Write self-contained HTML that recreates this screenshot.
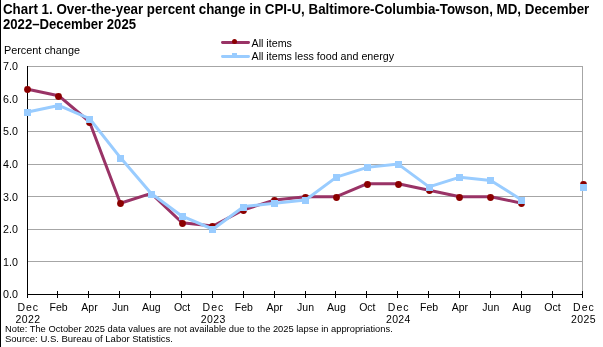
<!DOCTYPE html>
<html><head><meta charset="utf-8"><style>
html,body{margin:0;padding:0;background:#fff;width:603px;height:347px;overflow:hidden;position:relative;font-family:"Liberation Sans",sans-serif;}
</style></head><body>
<svg width="603" height="347" viewBox="0 0 603 347" style="position:absolute;left:0;top:0">
<rect x="0" y="0" width="1" height="347" fill="#000"/>
<line x1="27" y1="66.5" x2="582.5" y2="66.5" stroke="#A6A6A6" stroke-width="1"/>
<line x1="27" y1="99.5" x2="582.5" y2="99.5" stroke="#A6A6A6" stroke-width="1"/>
<line x1="27" y1="131.5" x2="582.5" y2="131.5" stroke="#A6A6A6" stroke-width="1"/>
<line x1="27" y1="164.5" x2="582.5" y2="164.5" stroke="#A6A6A6" stroke-width="1"/>
<line x1="27" y1="196.5" x2="582.5" y2="196.5" stroke="#A6A6A6" stroke-width="1"/>
<line x1="27" y1="229.5" x2="582.5" y2="229.5" stroke="#A6A6A6" stroke-width="1"/>
<line x1="27" y1="261.5" x2="582.5" y2="261.5" stroke="#A6A6A6" stroke-width="1"/>
<line x1="582.5" y1="66" x2="582.5" y2="294" stroke="#A6A6A6" stroke-width="1"/>
<line x1="27.5" y1="66" x2="27.5" y2="297.5" stroke="#000" stroke-width="1"/>
<line x1="27" y1="294.5" x2="583" y2="294.5" stroke="#000" stroke-width="1"/>
<line x1="27.5" y1="291" x2="27.5" y2="298" stroke="#000" stroke-width="1"/>
<line x1="57.5" y1="291" x2="57.5" y2="298" stroke="#000" stroke-width="1"/>
<line x1="88.5" y1="291" x2="88.5" y2="298" stroke="#000" stroke-width="1"/>
<line x1="119.5" y1="291" x2="119.5" y2="298" stroke="#000" stroke-width="1"/>
<line x1="150.5" y1="291" x2="150.5" y2="298" stroke="#000" stroke-width="1"/>
<line x1="181.5" y1="291" x2="181.5" y2="298" stroke="#000" stroke-width="1"/>
<line x1="212.5" y1="291" x2="212.5" y2="298" stroke="#000" stroke-width="1"/>
<line x1="243.5" y1="291" x2="243.5" y2="298" stroke="#000" stroke-width="1"/>
<line x1="274.5" y1="291" x2="274.5" y2="298" stroke="#000" stroke-width="1"/>
<line x1="305.5" y1="291" x2="305.5" y2="298" stroke="#000" stroke-width="1"/>
<line x1="335.5" y1="291" x2="335.5" y2="298" stroke="#000" stroke-width="1"/>
<line x1="366.5" y1="291" x2="366.5" y2="298" stroke="#000" stroke-width="1"/>
<line x1="397.5" y1="291" x2="397.5" y2="298" stroke="#000" stroke-width="1"/>
<line x1="428.5" y1="291" x2="428.5" y2="298" stroke="#000" stroke-width="1"/>
<line x1="459.5" y1="291" x2="459.5" y2="298" stroke="#000" stroke-width="1"/>
<line x1="490.5" y1="291" x2="490.5" y2="298" stroke="#000" stroke-width="1"/>
<line x1="521.5" y1="291" x2="521.5" y2="298" stroke="#000" stroke-width="1"/>
<line x1="552.5" y1="291" x2="552.5" y2="298" stroke="#000" stroke-width="1"/>
<line x1="582.5" y1="291" x2="582.5" y2="298" stroke="#000" stroke-width="1"/>
<polyline transform="translate(0 -0.6)" points="27.74,89.80 58.61,96.31 89.48,122.37 120.35,203.80 151.22,194.03 182.09,223.34 212.96,226.60 243.83,210.31 274.70,200.54 305.57,197.28 336.44,197.28 367.31,184.26 398.18,184.26 429.05,190.77 459.92,197.28 490.79,197.28 521.66,203.80" fill="none" stroke="#993366" stroke-width="3" stroke-linejoin="round" stroke-linecap="round"/>
<circle cx="27.5" cy="89.5" r="3.4" fill="#8B0000"/>
<circle cx="58.5" cy="96.5" r="3.4" fill="#8B0000"/>
<circle cx="89.5" cy="122.5" r="3.4" fill="#8B0000"/>
<circle cx="120.5" cy="203.5" r="3.4" fill="#8B0000"/>
<circle cx="151.5" cy="194.5" r="3.4" fill="#8B0000"/>
<circle cx="182.5" cy="223.5" r="3.4" fill="#8B0000"/>
<circle cx="212.5" cy="226.5" r="3.4" fill="#8B0000"/>
<circle cx="243.5" cy="210.5" r="3.4" fill="#8B0000"/>
<circle cx="274.5" cy="200.5" r="3.4" fill="#8B0000"/>
<circle cx="305.5" cy="197.5" r="3.4" fill="#8B0000"/>
<circle cx="336.5" cy="197.5" r="3.4" fill="#8B0000"/>
<circle cx="367.5" cy="184.5" r="3.4" fill="#8B0000"/>
<circle cx="398.5" cy="184.5" r="3.4" fill="#8B0000"/>
<circle cx="429.5" cy="190.5" r="3.4" fill="#8B0000"/>
<circle cx="459.5" cy="197.5" r="3.4" fill="#8B0000"/>
<circle cx="490.5" cy="197.5" r="3.4" fill="#8B0000"/>
<circle cx="521.5" cy="203.5" r="3.4" fill="#8B0000"/>
<circle cx="583.5" cy="184.5" r="3.4" fill="#8B0000"/>
<polyline transform="translate(0 -0.6)" points="27.74,112.60 58.61,106.09 89.48,119.11 120.35,158.20 151.22,194.03 182.09,216.83 212.96,229.85 243.83,207.06 274.70,203.80 305.57,200.54 336.44,177.74 367.31,167.97 398.18,164.71 429.05,187.51 459.92,177.74 490.79,181.00 521.66,200.54" fill="none" stroke="#99CCFF" stroke-width="3" stroke-linejoin="round" stroke-linecap="round"/>
<rect x="24" y="109" width="7" height="7" fill="#99CCFF"/>
<rect x="55" y="103" width="7" height="7" fill="#99CCFF"/>
<rect x="86" y="116" width="7" height="7" fill="#99CCFF"/>
<rect x="117" y="155" width="7" height="7" fill="#99CCFF"/>
<rect x="148" y="191" width="7" height="7" fill="#99CCFF"/>
<rect x="179" y="213" width="7" height="7" fill="#99CCFF"/>
<rect x="209" y="226" width="7" height="7" fill="#99CCFF"/>
<rect x="240" y="204" width="7" height="7" fill="#99CCFF"/>
<rect x="271" y="200" width="7" height="7" fill="#99CCFF"/>
<rect x="302" y="197" width="7" height="7" fill="#99CCFF"/>
<rect x="333" y="174" width="7" height="7" fill="#99CCFF"/>
<rect x="364" y="164" width="7" height="7" fill="#99CCFF"/>
<rect x="395" y="161" width="7" height="7" fill="#99CCFF"/>
<rect x="426" y="184" width="7" height="7" fill="#99CCFF"/>
<rect x="456" y="174" width="7" height="7" fill="#99CCFF"/>
<rect x="487" y="177" width="7" height="7" fill="#99CCFF"/>
<rect x="518" y="197" width="7" height="7" fill="#99CCFF"/>
<rect x="580" y="184" width="7" height="7" fill="#99CCFF"/>
<line x1="222.4" y1="42.5" x2="248.6" y2="42.5" stroke="#993366" stroke-width="2.8" stroke-linecap="round"/>
<circle cx="234.5" cy="41.5" r="2.5" fill="#8B0000"/>
<line x1="222.4" y1="56.5" x2="248.6" y2="56.5" stroke="#99CCFF" stroke-width="2.8" stroke-linecap="round"/>
<rect x="232" y="53" width="5" height="5" fill="#99CCFF"/>
</svg>
<svg width="603" height="347" viewBox="0 0 603 347" style="position:absolute;left:0;top:0;will-change:transform">
<text x="251.5" y="46.9" font-family="Liberation Sans, sans-serif" font-size="10.7" fill="#000">All items</text>
<text x="251.5" y="60.2" font-family="Liberation Sans, sans-serif" font-size="10.7" fill="#000">All items less food and energy</text>
<text x="4" y="54.3" font-family="Liberation Sans, sans-serif" font-size="10.85" fill="#000">Percent change</text>
<text x="3" y="70.3" font-family="Liberation Sans, sans-serif" font-size="10.7" fill="#000">7.0</text>
<text x="3" y="102.87" font-family="Liberation Sans, sans-serif" font-size="10.7" fill="#000">6.0</text>
<text x="3" y="135.44" font-family="Liberation Sans, sans-serif" font-size="10.7" fill="#000">5.0</text>
<text x="3" y="168.01" font-family="Liberation Sans, sans-serif" font-size="10.7" fill="#000">4.0</text>
<text x="3" y="200.58" font-family="Liberation Sans, sans-serif" font-size="10.7" fill="#000">3.0</text>
<text x="3" y="233.16" font-family="Liberation Sans, sans-serif" font-size="10.7" fill="#000">2.0</text>
<text x="3" y="265.73" font-family="Liberation Sans, sans-serif" font-size="10.7" fill="#000">1.0</text>
<text x="3" y="298.3" font-family="Liberation Sans, sans-serif" font-size="10.7" fill="#000">0.0</text>
<text x="28.24" y="310.9" text-anchor="middle" letter-spacing="1.0" font-family="Liberation Sans, sans-serif" font-size="10.5" fill="#000">Dec</text>
<text x="27.94" y="322.8" text-anchor="middle" letter-spacing="0.4" font-family="Liberation Sans, sans-serif" font-size="10.5" fill="#000">2022</text>
<text x="58.61" y="310.9" text-anchor="middle" letter-spacing="0" font-family="Liberation Sans, sans-serif" font-size="10.5" fill="#000">Feb</text>
<text x="89.48" y="310.9" text-anchor="middle" letter-spacing="0" font-family="Liberation Sans, sans-serif" font-size="10.5" fill="#000">Apr</text>
<text x="120.35" y="310.9" text-anchor="middle" letter-spacing="0" font-family="Liberation Sans, sans-serif" font-size="10.5" fill="#000">Jun</text>
<text x="151.22" y="310.9" text-anchor="middle" letter-spacing="0" font-family="Liberation Sans, sans-serif" font-size="10.5" fill="#000">Aug</text>
<text x="182.09" y="310.9" text-anchor="middle" letter-spacing="0" font-family="Liberation Sans, sans-serif" font-size="10.5" fill="#000">Oct</text>
<text x="213.46" y="310.9" text-anchor="middle" letter-spacing="1.0" font-family="Liberation Sans, sans-serif" font-size="10.5" fill="#000">Dec</text>
<text x="213.16" y="322.8" text-anchor="middle" letter-spacing="0.4" font-family="Liberation Sans, sans-serif" font-size="10.5" fill="#000">2023</text>
<text x="243.83" y="310.9" text-anchor="middle" letter-spacing="0" font-family="Liberation Sans, sans-serif" font-size="10.5" fill="#000">Feb</text>
<text x="274.70" y="310.9" text-anchor="middle" letter-spacing="0" font-family="Liberation Sans, sans-serif" font-size="10.5" fill="#000">Apr</text>
<text x="305.57" y="310.9" text-anchor="middle" letter-spacing="0" font-family="Liberation Sans, sans-serif" font-size="10.5" fill="#000">Jun</text>
<text x="336.44" y="310.9" text-anchor="middle" letter-spacing="0" font-family="Liberation Sans, sans-serif" font-size="10.5" fill="#000">Aug</text>
<text x="367.31" y="310.9" text-anchor="middle" letter-spacing="0" font-family="Liberation Sans, sans-serif" font-size="10.5" fill="#000">Oct</text>
<text x="398.68" y="310.9" text-anchor="middle" letter-spacing="1.0" font-family="Liberation Sans, sans-serif" font-size="10.5" fill="#000">Dec</text>
<text x="398.38" y="322.8" text-anchor="middle" letter-spacing="0.4" font-family="Liberation Sans, sans-serif" font-size="10.5" fill="#000">2024</text>
<text x="429.05" y="310.9" text-anchor="middle" letter-spacing="0" font-family="Liberation Sans, sans-serif" font-size="10.5" fill="#000">Feb</text>
<text x="459.92" y="310.9" text-anchor="middle" letter-spacing="0" font-family="Liberation Sans, sans-serif" font-size="10.5" fill="#000">Apr</text>
<text x="490.79" y="310.9" text-anchor="middle" letter-spacing="0" font-family="Liberation Sans, sans-serif" font-size="10.5" fill="#000">Jun</text>
<text x="521.66" y="310.9" text-anchor="middle" letter-spacing="0" font-family="Liberation Sans, sans-serif" font-size="10.5" fill="#000">Aug</text>
<text x="552.53" y="310.9" text-anchor="middle" letter-spacing="0" font-family="Liberation Sans, sans-serif" font-size="10.5" fill="#000">Oct</text>
<text x="583.90" y="310.9" text-anchor="middle" letter-spacing="1.0" font-family="Liberation Sans, sans-serif" font-size="10.5" fill="#000">Dec</text>
<text x="583.60" y="322.8" text-anchor="middle" letter-spacing="0.4" font-family="Liberation Sans, sans-serif" font-size="10.5" fill="#000">2025</text>
<text x="5" y="331.8" font-family="Liberation Sans, sans-serif" font-size="9.34" fill="#000">Note: The October 2025 data values are not available due to the 2025 lapse in appropriations.</text>
<text x="5" y="341.8" font-family="Liberation Sans, sans-serif" font-size="9.5" fill="#000">Source: U.S. Bureau of Labor Statistics.</text>
<text transform="translate(0 13.9) scale(1 1.03)" x="3" y="0" font-family="Liberation Sans, sans-serif" font-size="13.35" font-weight="bold" fill="#000">Chart 1. Over-the-year percent change in CPI-U, Baltimore-Columbia-Towson, MD, December</text>
<text transform="translate(0 28.8) scale(1 1.06)" x="3" y="0" font-family="Liberation Sans, sans-serif" font-size="13.15" font-weight="bold" fill="#000">2022–December 2025</text>
</svg>
</body></html>
